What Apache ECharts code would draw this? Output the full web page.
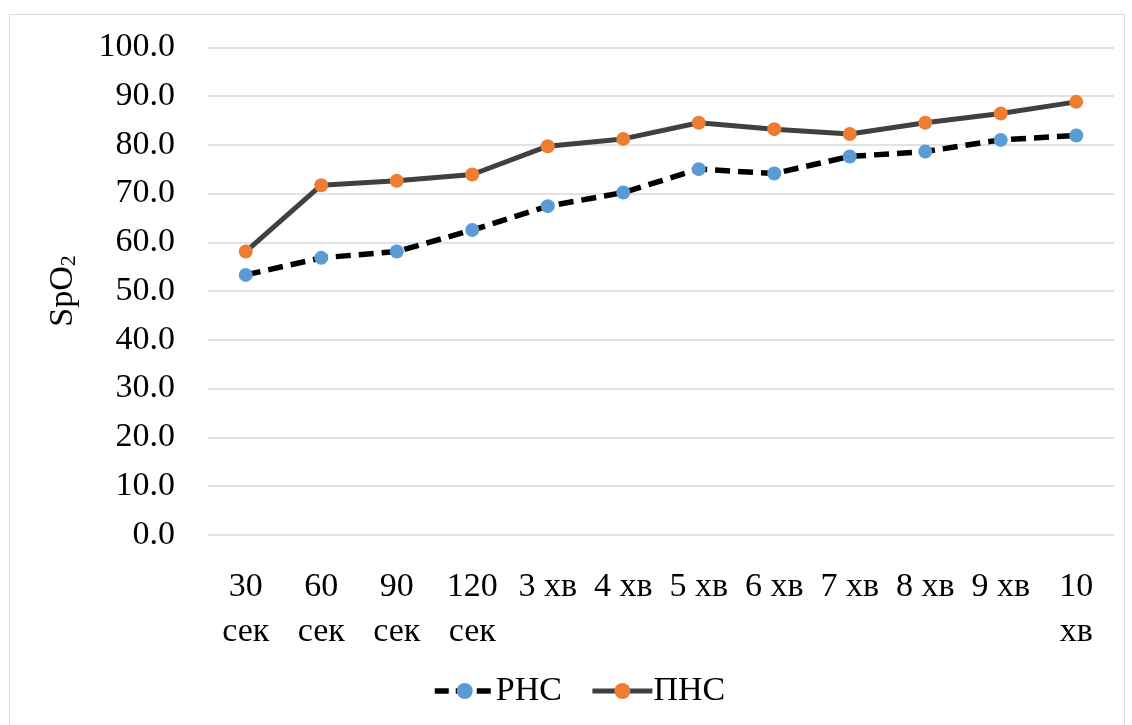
<!DOCTYPE html>
<html>
<head>
<meta charset="utf-8">
<script src="https://cdn.jsdelivr.net/npm/echarts@6/dist/echarts.min.js"></script>
<style>html,body{margin:0;padding:0;background:#fff;}#c{width:1132px;height:725px;}</style>
</head>
<body>
<div id="c"></div>
<script>
const categories = ['30\nсек','60\nсек','90\nсек','120\nсек','3 хв','4 хв','5 хв','6 хв','7 хв','8 хв','9 хв','10\nхв'];
const rnsValues = [53.3, 56.8, 58.1, 62.5, 67.4, 70.2, 75.0, 74.1, 77.6, 78.6, 81.0, 81.9];
const pnsValues = [58.1, 71.7, 72.6, 73.9, 79.7, 81.2, 84.5, 83.2, 82.2, 84.5, 86.4, 88.8];
const seriesNames = ['РНС', 'ПНС'];
const yMin = 0, yMax = 100, yStep = 10;

const font = '"Liberation Serif", "Times New Roman", serif';
const chart = echarts.init(document.getElementById('c'), null, {renderer: 'canvas'});
chart.setOption({
  animation: false,
  backgroundColor: '#fff',
  graphic: [{
    type: 'rect', left: 7, top: 12, z: -1,
    shape: {width: 1115, height: 730},
    style: {fill: 'none', stroke: '#d9d9d9', lineWidth: 1}
  }],
  grid: {left: 208, right: 18, top: 47.25, bottom: 190.25, containLabel: false},
  xAxis: {
    type: 'category',
    data: categories,
    boundaryGap: true,
    axisLine: {show: false},
    axisTick: {show: false},
    axisLabel: {
      fontFamily: font, fontSize: 34, color: '#000', margin: 30,
      lineHeight: 45, interval: 0
    }
  },
  yAxis: {
    type: 'value',
    min: yMin, max: yMax, interval: yStep,
    name: 'SpO{sub|2}',
    nameLocation: 'middle',
    nameGap: 128,
    nameTextStyle: {
      fontFamily: font, fontSize: 34, color: '#000',
      rich: {sub: {fontFamily: font, fontSize: 22, color: '#000', verticalAlign: 'bottom', padding: [12, 0, 0, 0]}}
    },
    axisLine: {show: false},
    axisTick: {show: false},
    axisLabel: {
      fontFamily: font, fontSize: 34, color: '#000', margin: 33,
      formatter: v => v.toFixed(1)
    },
    splitLine: {lineStyle: {color: '#d9d9d9', width: 1.5}}
  },
  legend: {
    bottom: 12,
    left: 427,
    itemWidth: 60,
    itemHeight: 20,
    itemGap: 28,
    textStyle: {fontFamily: font, fontSize: 34, color: '#000', padding: [0, 0, 0, -4]},
    data: [
      {name: seriesNames[0], lineStyle: {width: 5.5, type: [14, 7]}},
      {name: seriesNames[1], lineStyle: {width: 5}}
    ]
  },
  series: [
    {
      name: seriesNames[0], type: 'line', data: rnsValues,
      symbol: 'circle', symbolSize: 14,
      itemStyle: {color: '#5B9BD5', borderWidth: 0},
      lineStyle: {color: '#000', width: 5.5, type: [15, 8]},
      z: 3
    },
    {
      name: seriesNames[1], type: 'line', data: pnsValues,
      symbol: 'circle', symbolSize: 14,
      itemStyle: {color: '#ED7D31', borderWidth: 0},
      lineStyle: {color: '#404040', width: 5},
      z: 2
    }
  ]
});
</script>
</body>
</html>
